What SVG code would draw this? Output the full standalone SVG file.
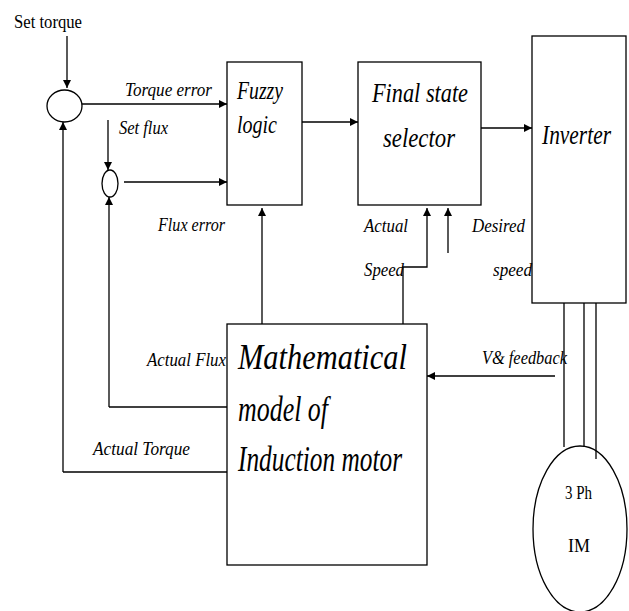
<svg xmlns="http://www.w3.org/2000/svg" width="629" height="611" viewBox="0 0 629 611">
<style>
.ln{fill:none;stroke:#000;stroke-width:1.3}
.arr{fill:none;stroke:#000;stroke-width:1.3;marker-end:url(#ah)}
.box{fill:#fff;stroke:#000;stroke-width:1.3}
.t{font-family:"Liberation Serif",serif;fill:#000}
.i{font-style:italic}
</style>
<defs>
<marker id="ah" viewBox="0 0 10 10" refX="10" refY="5" markerWidth="8" markerHeight="8" markerUnits="userSpaceOnUse" orient="auto">
<path d="M0,0 L10,5 L0,10 z" fill="#000"/>
</marker>
</defs>
<rect width="629" height="611" fill="#fff"/>
<g id="connectors">
<path class="arr" d="M67,36 V88"/>
<path class="arr" d="M82,104 H227"/>
<path class="arr" d="M108,120 V170"/>
<path class="arr" d="M124,182 H227"/>
<path class="arr" d="M302,122 H358"/>
<path class="arr" d="M481,128 H532"/>
<path class="arr" d="M262,324 V208"/>
<path class="arr" d="M403,324 V267 H427 V208"/>
<path class="arr" d="M448,253 V208"/>
<path class="arr" d="M109,407 V197"/>
<path class="ln" d="M227,407 H109"/>
<path class="arr" d="M63,472 V122"/>
<path class="ln" d="M227,472 H63"/>
<path class="arr" d="M555,376 H427"/>
<path class="ln" d="M564,303 V447 M584,303 V447 M596,303 V459"/>
</g>
<g id="sum-torque"><ellipse cx="64.5" cy="106" rx="17.5" ry="16" class="box"/></g>
<g id="sum-flux"><ellipse cx="110" cy="183.5" rx="8" ry="13.5" class="box"/></g>
<g id="fuzzy">
<rect x="227" y="62" width="75" height="143" class="box"/>
<text class="t i" x="237" y="99" font-size="26" textLength="46" lengthAdjust="spacingAndGlyphs">Fuzzy</text>
<text class="t i" x="237" y="133" font-size="26" textLength="40" lengthAdjust="spacingAndGlyphs">logic</text>
</g>
<g id="fss">
<rect x="358" y="62" width="123" height="143" class="box"/>
<text class="t i" x="372" y="102" font-size="28" textLength="96" lengthAdjust="spacingAndGlyphs">Final state</text>
<text class="t i" x="383" y="147" font-size="28" textLength="72" lengthAdjust="spacingAndGlyphs">selector</text>
</g>
<g id="inverter">
<rect x="532" y="36" width="94" height="267" class="box"/>
<text class="t i" x="542" y="144" font-size="27" textLength="69" lengthAdjust="spacingAndGlyphs">Inverter</text>
</g>
<g id="math-model">
<rect x="227" y="324" width="200" height="241" class="box"/>
<text class="t i" x="238" y="369" font-size="35" textLength="169" lengthAdjust="spacingAndGlyphs">Mathematical</text>
<text class="t i" x="238" y="421" font-size="35" textLength="90" lengthAdjust="spacingAndGlyphs">model of</text>
<text class="t i" x="238" y="471" font-size="35" textLength="164" lengthAdjust="spacingAndGlyphs">Induction motor</text>
</g>
<g id="motor">
<ellipse cx="580" cy="529" rx="47" ry="83" class="ln"/>
<text class="t" x="565" y="499" font-size="18" textLength="27" lengthAdjust="spacingAndGlyphs">3 Ph</text>
<text class="t" x="568" y="552" font-size="18" textLength="22" lengthAdjust="spacingAndGlyphs">IM</text>
</g>
<g id="labels">
<text class="t" x="14" y="28" font-size="19" textLength="68" lengthAdjust="spacingAndGlyphs">Set torque</text>
<text class="t i" x="125" y="96" font-size="18" textLength="87" lengthAdjust="spacingAndGlyphs">Torque error</text>
<text class="t i" x="119" y="134" font-size="18" textLength="49" lengthAdjust="spacingAndGlyphs">Set flux</text>
<text class="t i" x="158" y="231" font-size="18" textLength="67" lengthAdjust="spacingAndGlyphs">Flux error</text>
<text class="t i" x="364" y="232" font-size="18" textLength="44" lengthAdjust="spacingAndGlyphs">Actual</text>
<text class="t i" x="364" y="276" font-size="18" textLength="40" lengthAdjust="spacingAndGlyphs">Speed</text>
<text class="t i" x="472" y="232" font-size="18" textLength="53" lengthAdjust="spacingAndGlyphs">Desired</text>
<text class="t i" x="493" y="276" font-size="18" textLength="39" lengthAdjust="spacingAndGlyphs">speed</text>
<text class="t i" x="147" y="366" font-size="18" textLength="79" lengthAdjust="spacingAndGlyphs">Actual Flux</text>
<text class="t i" x="93" y="455" font-size="18" textLength="97" lengthAdjust="spacingAndGlyphs">Actual Torque</text>
<text class="t i" x="482" y="364" font-size="18" textLength="85" lengthAdjust="spacingAndGlyphs">V&amp; feedback</text>
</g>
</svg>
